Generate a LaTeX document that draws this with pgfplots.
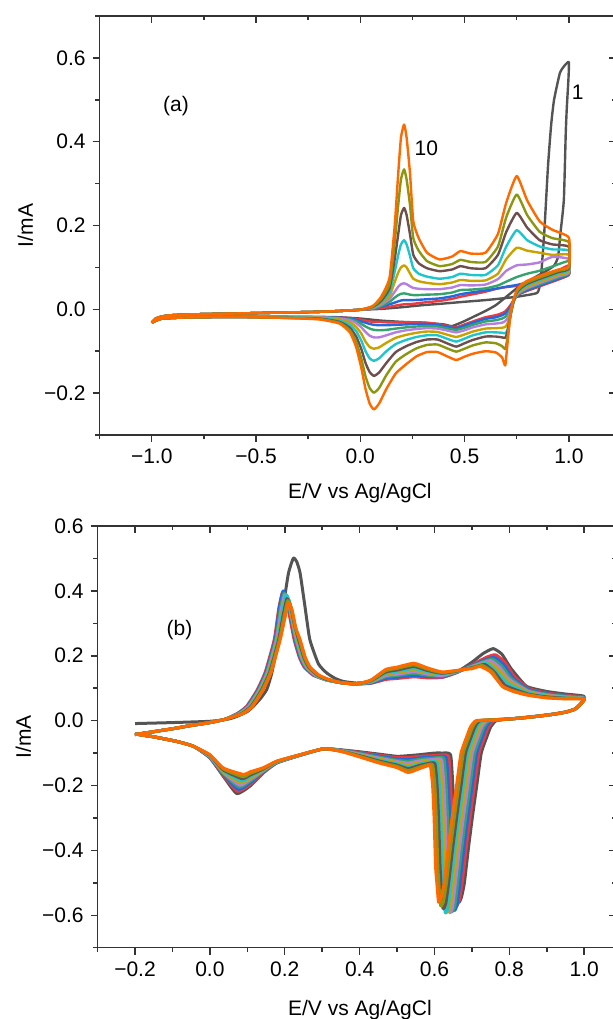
\documentclass[border=0pt]{standalone}
\usepackage{fontspec}
\setmainfont{Liberation Sans}
\usepackage{pgfplots}
\pgfplotsset{compat=1.18}

\definecolor{c1}{HTML}{545454}
\definecolor{c2}{HTML}{EE3A3F}
\definecolor{c3}{HTML}{2468E0}
\definecolor{c4}{HTML}{34A36C}
\definecolor{c5}{HTML}{B47FDF}
\definecolor{c6}{HTML}{C8A200}
\definecolor{c7}{HTML}{20C5CB}
\definecolor{c8}{HTML}{6F4E4E}
\definecolor{c9}{HTML}{8B9611}
\definecolor{c10}{HTML}{FF6A00}
\definecolor{axc}{HTML}{333333}

\pgfplotsset{
  box/.style={scale only axis, no markers,
    axis line style={draw=axc, line width=0.75pt},
    tick style={draw=axc, line width=0.75pt},
    major tick length=3.5pt, minor tick length=2.2pt,
    tick label style={font=\fontsize{10.5}{12}\selectfont, text=black},
    label style={font=\fontsize{10.5}{12}\selectfont}},
  lower/.style={box, axis x line*=bottom, axis y line*=left, tick align=outside},
  upper/.style={box, axis x line*=top, axis y line*=right, tick align=inside,
    xticklabels={}, yticklabels={}},
  cva/.style={smooth, tension=0.3, line width=1.2pt, line join=round},
  cvb/.style={smooth, tension=0.3, line width=1.5pt, line join=round},
  pa/.style={at={(49.8pt,-8pt)}, anchor=north west, width=258.2pt, height=209.5pt,
    xmin=-1.25, xmax=1.226, ymin=-0.3, ymax=0.7,
    xtick={-1,-0.5,0,0.5,1}, minor xtick={-1.25,-0.75,-0.25,0.25,0.75},
    ytick={-0.2,0,0.2,0.4,0.6}, minor ytick={-0.3,-0.1,0.1,0.3,0.5,0.7}},
  pb/.style={at={(48.8pt,-263pt)}, anchor=north west, width=259.2pt, height=210.85pt,
    xmin=-0.3, xmax=1.085, ymin=-0.7, ymax=0.6,
    xtick={-0.2,0,0.2,0.4,0.6,0.8,1.0}, minor xtick={-0.3,-0.1,0.1,0.3,0.5,0.7,0.9},
    ytick={-0.6,-0.4,-0.2,0,0.2,0.4,0.6}, minor ytick={-0.7,-0.5,-0.3,-0.1,0.1,0.3,0.5}},
}

\begin{document}
\begin{tikzpicture}

% ---------------- panel (a) ----------------
\begin{axis}[lower, pa,
  xticklabels={−1.0,−0.5,0.0,0.5,1.0},
  yticklabels={−0.2,0.0,0.2,0.4,0.6},
  xlabel={E/V vs Ag/AgCl}, ylabel={I/mA},
  xlabel style={at={(axis description cs:0.504,-0.138)}, anchor=center},
  ylabel style={at={(axis description cs:-0.1437,0.5)}, anchor=center}]

\addplot[cva, c1] coordinates {(-1.0,-0.032) (-0.98,-0.022) (-0.95,-0.017) (-0.9,-0.014) (-0.8,-0.012) (-0.6,-0.01) (-0.4,-0.008) (-0.2,-0.006) (-0.1,-0.004) (0.0,-0.001)
 (0.1,0.001) (0.2,0.005) (0.3,0.01) (0.38,0.013) (0.5,0.018) (0.6,0.022) (0.7,0.027) (0.75,0.03) (0.8,0.034) (0.85,0.04) (0.865,0.07) (0.882,0.183) (0.9,0.342) (0.915,0.44) (0.929,0.5) (0.957,0.564) (0.98,0.582) (1.0,0.59)
 (0.998,0.55) (0.99,0.48) (0.985,0.42) (0.976,0.262) (0.96,0.183) (0.948,0.125) (0.93,0.105) (0.9,0.094) (0.85,0.08) (0.8,0.066) (0.75,0.05) (0.7,0.03) (0.65,0.01) (0.6,-0.004) (0.55,-0.016) (0.5,-0.028) (0.44,-0.04) (0.4,-0.036) (0.3,-0.032) (0.2,-0.03) (0.1,-0.027) (0.0,-0.022) (-0.1,-0.019) (-0.2,-0.018) (-0.4,-0.018) (-0.6,-0.018) (-0.8,-0.019) (-0.95,-0.022) (-1.0,-0.032)};

\addplot[cva, c2] coordinates {(-1.0,-0.032) (-0.98,-0.022) (-0.95,-0.017) (-0.9,-0.014) (-0.8,-0.012) (-0.6,-0.01) (-0.4,-0.008) (-0.2,-0.006) (-0.1,-0.004) (0.0,-0.001)
 (0.06,0.001) (0.1,0.003) (0.14,0.006) (0.182,0.01) (0.21,0.012) (0.254,0.013) (0.28,0.015) (0.32,0.017) (0.38,0.02) (0.44,0.025) (0.48,0.03) (0.53,0.035) (0.6,0.042) (0.66,0.05) (0.7,0.053) (0.75,0.056) (0.8,0.062) (0.86,0.07) (0.92,0.085) (1.0,0.105)
 (1.0,0.082) (0.95,0.071) (0.9,0.062) (0.85,0.053) (0.8,0.044) (0.77,0.038) (0.75,0.032) (0.735,0.022) (0.72,0.01) (0.705,0.0) (0.695,-0.005) (0.68,-0.009) (0.65,-0.014) (0.6,-0.019) (0.54,-0.029) (0.5,-0.036) (0.46,-0.043) (0.42,-0.04) (0.37,-0.035) (0.32,-0.032) (0.27,-0.031) (0.22,-0.031) (0.17,-0.031) (0.125,-0.031) (0.09,-0.03) (0.065,-0.03) (0.045,-0.029) (0.025,-0.027) (0.005,-0.025) (-0.02,-0.023) (-0.05,-0.021) (-0.1,-0.02) (-0.2,-0.019) (-0.4,-0.018) (-0.6,-0.018) (-0.8,-0.019) (-0.95,-0.022) (-1.0,-0.032)};

\addplot[cva, c3] coordinates {(-1.0,-0.032) (-0.98,-0.022) (-0.95,-0.017) (-0.9,-0.014) (-0.8,-0.012) (-0.6,-0.01) (-0.4,-0.008) (-0.2,-0.006) (-0.1,-0.004) (0.0,-0.001)
 (0.06,0.002) (0.1,0.006) (0.14,0.012) (0.165,0.016) (0.182,0.019) (0.195,0.021) (0.21,0.022) (0.254,0.022) (0.32,0.024) (0.38,0.026) (0.44,0.031) (0.48,0.036) (0.53,0.04) (0.6,0.045) (0.66,0.05) (0.7,0.054) (0.75,0.058) (0.8,0.064) (0.86,0.07) (0.92,0.08) (1.0,0.1)
 (1.0,0.083) (0.95,0.073) (0.9,0.064) (0.85,0.055) (0.8,0.046) (0.77,0.039) (0.75,0.032) (0.735,0.02) (0.72,0.006) (0.705,-0.005) (0.695,-0.01) (0.68,-0.014) (0.65,-0.019) (0.6,-0.023) (0.54,-0.032) (0.5,-0.039) (0.46,-0.045) (0.42,-0.042) (0.37,-0.037) (0.32,-0.035) (0.27,-0.035) (0.22,-0.036) (0.17,-0.037) (0.125,-0.038) (0.09,-0.038) (0.065,-0.037) (0.045,-0.035) (0.025,-0.032) (0.005,-0.029) (-0.02,-0.025) (-0.05,-0.022) (-0.1,-0.02) (-0.2,-0.019) (-0.4,-0.018) (-0.6,-0.018) (-0.8,-0.019) (-0.95,-0.022) (-1.0,-0.032)};

\addplot[cva, c4] coordinates {(-1.0,-0.032) (-0.98,-0.022) (-0.95,-0.017) (-0.9,-0.014) (-0.8,-0.012) (-0.6,-0.01) (-0.4,-0.008) (-0.2,-0.006) (-0.1,-0.004) (0.0,-0.001)
 (0.06,0.002) (0.1,0.008) (0.14,0.018) (0.165,0.028) (0.182,0.034) (0.195,0.037) (0.21,0.038) (0.222,0.037) (0.238,0.035) (0.254,0.034) (0.28,0.034) (0.32,0.035) (0.38,0.036) (0.44,0.04) (0.48,0.046) (0.53,0.047) (0.6,0.05) (0.66,0.057) (0.7,0.066) (0.75,0.077) (0.8,0.085) (0.86,0.092) (0.92,0.102) (1.0,0.115)
 (1.0,0.085) (0.95,0.076) (0.9,0.067) (0.85,0.058) (0.8,0.049) (0.77,0.041) (0.75,0.033) (0.735,0.018) (0.72,0.0) (0.705,-0.013) (0.695,-0.018) (0.68,-0.022) (0.65,-0.026) (0.6,-0.029) (0.54,-0.037) (0.5,-0.044) (0.46,-0.049) (0.42,-0.046) (0.37,-0.041) (0.32,-0.04) (0.27,-0.041) (0.22,-0.043) (0.17,-0.046) (0.125,-0.049) (0.09,-0.05) (0.065,-0.049) (0.045,-0.046) (0.025,-0.041) (0.005,-0.035) (-0.02,-0.028) (-0.05,-0.024) (-0.1,-0.021) (-0.2,-0.019) (-0.4,-0.018) (-0.6,-0.018) (-0.8,-0.019) (-0.95,-0.022) (-1.0,-0.032)};

\addplot[cva, c5] coordinates {(-1.0,-0.032) (-0.98,-0.022) (-0.95,-0.017) (-0.9,-0.014) (-0.8,-0.012) (-0.6,-0.01) (-0.4,-0.008) (-0.2,-0.006) (-0.1,-0.004) (0.0,-0.001)
 (0.06,0.003) (0.1,0.011) (0.14,0.025) (0.165,0.042) (0.182,0.054) (0.195,0.06) (0.21,0.062) (0.222,0.06) (0.238,0.055) (0.254,0.051) (0.28,0.049) (0.32,0.048) (0.38,0.048) (0.44,0.052) (0.48,0.058) (0.53,0.057) (0.6,0.059) (0.66,0.072) (0.7,0.092) (0.75,0.105) (0.8,0.107) (0.86,0.112) (0.92,0.125) (1.0,0.12)
 (1.0,0.087) (0.95,0.079) (0.9,0.07) (0.85,0.061) (0.8,0.051) (0.77,0.043) (0.75,0.034) (0.735,0.018) (0.72,-0.005) (0.705,-0.022) (0.695,-0.028) (0.68,-0.032) (0.65,-0.034) (0.6,-0.036) (0.54,-0.043) (0.5,-0.05) (0.46,-0.055) (0.42,-0.051) (0.37,-0.046) (0.32,-0.045) (0.27,-0.047) (0.22,-0.05) (0.17,-0.055) (0.125,-0.062) (0.09,-0.067) (0.065,-0.067) (0.045,-0.063) (0.025,-0.054) (0.005,-0.043) (-0.02,-0.033) (-0.05,-0.026) (-0.1,-0.022) (-0.2,-0.019) (-0.4,-0.018) (-0.6,-0.018) (-0.8,-0.019) (-0.95,-0.022) (-1.0,-0.032)};

\addplot[cva, c6] coordinates {(-1.0,-0.032) (-0.98,-0.022) (-0.95,-0.017) (-0.9,-0.014) (-0.8,-0.012) (-0.6,-0.01) (-0.4,-0.008) (-0.2,-0.006) (-0.1,-0.004) (0.0,-0.001)
 (0.06,0.004) (0.1,0.014) (0.14,0.032) (0.165,0.065) (0.182,0.088) (0.195,0.1) (0.21,0.105) (0.222,0.1) (0.238,0.086) (0.254,0.073) (0.28,0.067) (0.32,0.063) (0.38,0.06) (0.44,0.064) (0.48,0.07) (0.53,0.068) (0.6,0.069) (0.66,0.085) (0.7,0.12) (0.75,0.147) (0.8,0.14) (0.86,0.135) (0.92,0.13) (1.0,0.13)
 (1.0,0.09) (0.95,0.082) (0.9,0.073) (0.85,0.064) (0.8,0.054) (0.77,0.045) (0.75,0.035) (0.735,0.018) (0.72,-0.01) (0.705,-0.035) (0.695,-0.042) (0.68,-0.044) (0.65,-0.045) (0.6,-0.046) (0.54,-0.053) (0.5,-0.06) (0.46,-0.066) (0.42,-0.061) (0.37,-0.054) (0.32,-0.053) (0.27,-0.056) (0.22,-0.061) (0.17,-0.068) (0.125,-0.08) (0.09,-0.091) (0.065,-0.094) (0.045,-0.09) (0.025,-0.077) (0.005,-0.058) (-0.02,-0.042) (-0.05,-0.031) (-0.1,-0.024) (-0.2,-0.02) (-0.4,-0.019) (-0.6,-0.018) (-0.8,-0.019) (-0.95,-0.022) (-1.0,-0.032)};

\addplot[cva, c7] coordinates {(-1.0,-0.032) (-0.98,-0.022) (-0.95,-0.017) (-0.9,-0.014) (-0.8,-0.012) (-0.6,-0.01) (-0.4,-0.008) (-0.2,-0.006) (-0.1,-0.004) (0.0,-0.001)
 (0.06,0.005) (0.1,0.017) (0.14,0.04) (0.165,0.09) (0.182,0.13) (0.195,0.155) (0.21,0.165) (0.222,0.155) (0.238,0.128) (0.254,0.098) (0.28,0.085) (0.32,0.078) (0.38,0.073) (0.44,0.077) (0.48,0.085) (0.53,0.082) (0.6,0.082) (0.66,0.105) (0.7,0.15) (0.75,0.189) (0.8,0.165) (0.86,0.15) (0.92,0.143) (1.0,0.14)
 (1.0,0.094) (0.95,0.086) (0.9,0.077) (0.85,0.068) (0.8,0.058) (0.77,0.048) (0.75,0.037) (0.735,0.018) (0.72,-0.015) (0.705,-0.05) (0.695,-0.057) (0.68,-0.056) (0.65,-0.055) (0.6,-0.055) (0.54,-0.062) (0.5,-0.07) (0.46,-0.077) (0.42,-0.071) (0.37,-0.062) (0.32,-0.062) (0.27,-0.066) (0.22,-0.073) (0.17,-0.083) (0.125,-0.1) (0.09,-0.117) (0.065,-0.123) (0.045,-0.117) (0.025,-0.1) (0.005,-0.075) (-0.02,-0.052) (-0.05,-0.037) (-0.1,-0.027) (-0.2,-0.021) (-0.4,-0.019) (-0.6,-0.018) (-0.8,-0.019) (-0.95,-0.022) (-1.0,-0.032)};

\addplot[cva, c8] coordinates {(-1.0,-0.032) (-0.98,-0.022) (-0.95,-0.017) (-0.9,-0.014) (-0.8,-0.012) (-0.6,-0.01) (-0.4,-0.008) (-0.2,-0.006) (-0.1,-0.004) (0.0,-0.001)
 (0.06,0.006) (0.1,0.02) (0.14,0.05) (0.165,0.12) (0.182,0.18) (0.195,0.225) (0.21,0.242) (0.222,0.225) (0.238,0.18) (0.254,0.13) (0.28,0.11) (0.32,0.098) (0.38,0.091) (0.44,0.095) (0.48,0.103) (0.53,0.098) (0.6,0.098) (0.66,0.13) (0.7,0.185) (0.75,0.23) (0.8,0.195) (0.86,0.165) (0.92,0.155) (1.0,0.149)
 (1.0,0.097) (0.95,0.089) (0.9,0.08) (0.85,0.071) (0.8,0.061) (0.77,0.051) (0.75,0.04) (0.735,0.02) (0.72,-0.015) (0.705,-0.055) (0.695,-0.068) (0.68,-0.067) (0.65,-0.065) (0.6,-0.065) (0.54,-0.073) (0.5,-0.081) (0.46,-0.089) (0.42,-0.082) (0.37,-0.072) (0.32,-0.072) (0.27,-0.078) (0.22,-0.088) (0.17,-0.102) (0.125,-0.128) (0.09,-0.151) (0.065,-0.159) (0.045,-0.15) (0.025,-0.128) (0.005,-0.095) (-0.02,-0.065) (-0.05,-0.044) (-0.1,-0.03) (-0.2,-0.022) (-0.4,-0.02) (-0.6,-0.018) (-0.8,-0.019) (-0.95,-0.022) (-1.0,-0.032)};

\addplot[cva, c9] coordinates {(-1.0,-0.032) (-0.98,-0.022) (-0.95,-0.017) (-0.9,-0.014) (-0.8,-0.012) (-0.6,-0.01) (-0.4,-0.008) (-0.2,-0.006) (-0.1,-0.004) (0.0,-0.001)
 (0.06,0.007) (0.1,0.025) (0.14,0.06) (0.165,0.16) (0.182,0.25) (0.195,0.31) (0.21,0.334) (0.222,0.31) (0.238,0.25) (0.254,0.17) (0.28,0.14) (0.32,0.115) (0.38,0.103) (0.44,0.108) (0.48,0.118) (0.53,0.113) (0.6,0.113) (0.66,0.15) (0.7,0.22) (0.75,0.274) (0.8,0.225) (0.86,0.185) (0.92,0.17) (1.0,0.16)
 (1.0,0.1) (0.95,0.092) (0.9,0.083) (0.85,0.074) (0.8,0.064) (0.77,0.054) (0.75,0.042) (0.735,0.022) (0.72,-0.015) (0.705,-0.07) (0.695,-0.095) (0.68,-0.088) (0.65,-0.081) (0.6,-0.079) (0.54,-0.086) (0.5,-0.094) (0.46,-0.101) (0.42,-0.094) (0.37,-0.084) (0.32,-0.085) (0.27,-0.093) (0.22,-0.107) (0.17,-0.125) (0.125,-0.157) (0.09,-0.188) (0.065,-0.199) (0.045,-0.188) (0.025,-0.16) (0.005,-0.118) (-0.02,-0.078) (-0.05,-0.05) (-0.1,-0.032) (-0.2,-0.023) (-0.4,-0.02) (-0.6,-0.018) (-0.8,-0.019) (-0.95,-0.022) (-1.0,-0.032)};

\addplot[cva, c10] coordinates {(-1.0,-0.032) (-0.98,-0.022) (-0.95,-0.017) (-0.9,-0.014) (-0.8,-0.012) (-0.6,-0.01) (-0.4,-0.008) (-0.2,-0.006) (-0.1,-0.004) (0.0,-0.001)
 (0.06,0.008) (0.1,0.03) (0.14,0.075) (0.165,0.2) (0.182,0.326) (0.195,0.41) (0.21,0.441) (0.222,0.41) (0.238,0.326) (0.254,0.21) (0.28,0.17) (0.32,0.135) (0.38,0.119) (0.44,0.126) (0.48,0.139) (0.53,0.133) (0.6,0.135) (0.66,0.18) (0.7,0.255) (0.75,0.318) (0.8,0.26) (0.86,0.21) (0.92,0.19) (1.0,0.171)
 (1.0,0.103) (0.95,0.095) (0.9,0.087) (0.85,0.078) (0.8,0.068) (0.77,0.058) (0.75,0.045) (0.735,0.025) (0.72,-0.01) (0.705,-0.085) (0.695,-0.134) (0.68,-0.115) (0.65,-0.103) (0.6,-0.1) (0.54,-0.106) (0.5,-0.113) (0.46,-0.121) (0.42,-0.113) (0.37,-0.102) (0.32,-0.102) (0.27,-0.112) (0.22,-0.131) (0.17,-0.153) (0.125,-0.19) (0.09,-0.225) (0.065,-0.239) (0.045,-0.225) (0.025,-0.19) (0.005,-0.14) (-0.02,-0.09) (-0.05,-0.055) (-0.1,-0.034) (-0.2,-0.024) (-0.4,-0.02) (-0.6,-0.018) (-0.8,-0.019) (-0.95,-0.022) (-1.0,-0.032)};

\node[font=\fontsize{10.5}{12}\selectfont] at (axis cs:-0.884,0.484) {(a)};
\node[font=\fontsize{10.5}{12}\selectfont] at (axis cs:0.317,0.385) {10};
\node[font=\fontsize{10.5}{12}\selectfont] at (axis cs:1.043,0.517) {1};
\end{axis}
\begin{axis}[upper, pa]
\end{axis}

% ---------------- panel (b) ----------------
\begin{axis}[lower, pb,
  xticklabels={−0.2,0.0,0.2,0.4,0.6,0.8,1.0},
  yticklabels={−0.6,−0.4,−0.2,0.0,0.2,0.4,0.6},
  xlabel={E/V vs Ag/AgCl}, ylabel={I/mA},
  xlabel style={at={(axis description cs:0.506,-0.148)}, anchor=center},
  ylabel style={at={(axis description cs:-0.143,0.5)}, anchor=center}]

\addplot[cvb, c1] coordinates {(-0.2,-0.009) (-0.1,-0.006) (0,-0.002) (0.05,0.005) (0.072,0.013) (0.1,0.028) (0.116,0.044) (0.135,0.068) (0.152,0.096) (0.165,0.145) (0.178,0.219) (0.188,0.29) (0.196,0.352) (0.21,0.455) (0.223,0.501) (0.232,0.49) (0.241,0.455) (0.254,0.352) (0.267,0.25) (0.29,0.175) (0.312,0.147) (0.335,0.13) (0.356,0.121) (0.39,0.116) (0.43,0.118) (0.47,0.13) (0.5,0.134) (0.545,0.138) (0.58,0.134) (0.62,0.134) (0.66,0.15) (0.7,0.18) (0.73,0.207) (0.757,0.222) (0.78,0.205) (0.805,0.16) (0.846,0.106) (0.9,0.09) (0.95,0.082) (1.0,0.075)
 (0.99,0.052) (0.975,0.036) (0.95,0.027) (0.92,0.021) (0.88,0.015) (0.84,0.01) (0.8,0.005) (0.765,0) (0.75,-0.02) (0.74,-0.05) (0.725,-0.1) (0.713,-0.2) (0.701,-0.3) (0.69,-0.4) (0.68,-0.5) (0.672,-0.545) (0.665,-0.56) (0.661,-0.51) (0.657,-0.45) (0.653,-0.3) (0.649,-0.2) (0.643,-0.105) (0.62,-0.1) (0.6,-0.1) (0.56,-0.105) (0.53,-0.108) (0.5,-0.11) (0.45,-0.103) (0.4,-0.096) (0.35,-0.09) (0.303,-0.087) (0.232,-0.11) (0.178,-0.131) (0.143,-0.161) (0.107,-0.202) (0.072,-0.225) (0.036,-0.172) (0,-0.115) (-0.044,-0.079) (-0.089,-0.064) (-0.15,-0.05) (-0.2,-0.041)};

\addplot[cvb, c2] coordinates {(-0.2,-0.043) (-0.15,-0.034) (-0.1,-0.025) (-0.05,-0.015) (0,-0.006) (0.04,0.004)
 (0.073,0.022) (0.098,0.044) (0.126,0.094) (0.148,0.15) (0.172,0.25) (0.184,0.346) (0.194,0.396) (0.204,0.371) (0.214,0.316) (0.225,0.25) (0.239,0.195) (0.252,0.165) (0.276,0.14) (0.31,0.126) (0.35,0.117) (0.39,0.113) (0.43,0.115) (0.47,0.127) (0.5,0.13) (0.545,0.135) (0.58,0.132) (0.62,0.133) (0.66,0.148) (0.7,0.172) (0.738,0.195) (0.763,0.203) (0.788,0.18) (0.813,0.137) (0.85,0.1) (0.9,0.085) (0.95,0.078) (1.0,0.072)
 (0.99,0.05) (0.975,0.035) (0.95,0.026) (0.92,0.02) (0.88,0.014) (0.84,0.009) (0.8,0.005)
 (0.759,0) (0.744,-0.02) (0.734,-0.05) (0.719,-0.1) (0.707,-0.2) (0.695,-0.3) (0.684,-0.4) (0.674,-0.5) (0.666,-0.555) (0.659,-0.57) (0.655,-0.52) (0.651,-0.45) (0.647,-0.3) (0.643,-0.2) (0.637,-0.109) (0.6,-0.108) (0.56,-0.11) (0.53,-0.114) (0.5,-0.114) (0.45,-0.106) (0.4,-0.098) (0.35,-0.091) (0.303,-0.087) (0.232,-0.11) (0.178,-0.13) (0.143,-0.159) (0.107,-0.197) (0.074,-0.218) (0.036,-0.169) (0,-0.114)
 (-0.044,-0.079) (-0.089,-0.064) (-0.15,-0.05) (-0.2,-0.041)};

\addplot[cvb, c3] coordinates {(-0.2,-0.043) (-0.15,-0.034) (-0.1,-0.025) (-0.05,-0.015) (0,-0.006) (0.04,0.004)
 (0.075,0.022) (0.1,0.044) (0.128,0.094) (0.15,0.15) (0.174,0.25) (0.186,0.35) (0.196,0.4) (0.206,0.375) (0.216,0.32) (0.227,0.25) (0.241,0.195) (0.254,0.165) (0.278,0.14) (0.31,0.126) (0.35,0.117) (0.39,0.113) (0.43,0.116) (0.47,0.131) (0.5,0.134) (0.545,0.14) (0.58,0.136) (0.62,0.135) (0.66,0.149) (0.7,0.17) (0.735,0.187) (0.76,0.195) (0.785,0.173) (0.81,0.132) (0.85,0.097) (0.9,0.083) (0.95,0.076) (1.0,0.071)
 (0.99,0.05) (0.975,0.035) (0.95,0.026) (0.92,0.02) (0.88,0.014) (0.84,0.009) (0.8,0.005)
 (0.753,0) (0.738,-0.02) (0.728,-0.05) (0.713,-0.1) (0.701,-0.2) (0.689,-0.3) (0.678,-0.4) (0.668,-0.5) (0.66,-0.57) (0.653,-0.585) (0.649,-0.535) (0.645,-0.45) (0.641,-0.3) (0.637,-0.2) (0.631,-0.113) (0.6,-0.112) (0.56,-0.115) (0.53,-0.12) (0.5,-0.118) (0.45,-0.109) (0.4,-0.1) (0.35,-0.091) (0.303,-0.087) (0.232,-0.11) (0.178,-0.13) (0.143,-0.157) (0.107,-0.192) (0.076,-0.212) (0.036,-0.166) (0,-0.113)
 (-0.044,-0.079) (-0.089,-0.064) (-0.15,-0.05) (-0.2,-0.041)};

\addplot[cvb, c4] coordinates {(-0.2,-0.043) (-0.15,-0.034) (-0.1,-0.025) (-0.05,-0.015) (0,-0.006) (0.04,0.004)
 (0.077,0.022) (0.102,0.044) (0.13,0.094) (0.152,0.15) (0.176,0.25) (0.188,0.343) (0.198,0.393) (0.208,0.368) (0.218,0.313) (0.229,0.25) (0.243,0.195) (0.256,0.165) (0.28,0.14) (0.31,0.126) (0.35,0.117) (0.39,0.113) (0.43,0.118) (0.47,0.135) (0.5,0.139) (0.545,0.146) (0.58,0.14) (0.62,0.137) (0.66,0.15) (0.7,0.168) (0.73,0.182) (0.755,0.19) (0.78,0.168) (0.805,0.13) (0.85,0.094) (0.9,0.081) (0.95,0.075) (1.0,0.07)
 (0.99,0.05) (0.975,0.035) (0.95,0.026) (0.92,0.02) (0.88,0.014) (0.84,0.009) (0.8,0.005)
 (0.747,0) (0.732,-0.02) (0.722,-0.05) (0.707,-0.1) (0.695,-0.2) (0.683,-0.3) (0.672,-0.4) (0.662,-0.5) (0.654,-0.573) (0.647,-0.588) (0.643,-0.538) (0.639,-0.45) (0.635,-0.3) (0.631,-0.2) (0.625,-0.117) (0.6,-0.115) (0.56,-0.119) (0.53,-0.125) (0.5,-0.122) (0.45,-0.112) (0.4,-0.101) (0.35,-0.092) (0.303,-0.087) (0.232,-0.109) (0.178,-0.129) (0.143,-0.156) (0.107,-0.187) (0.078,-0.205) (0.036,-0.163) (0,-0.112)
 (-0.044,-0.079) (-0.089,-0.064) (-0.15,-0.05) (-0.2,-0.041)};

\addplot[cvb, c5] coordinates {(-0.2,-0.043) (-0.15,-0.034) (-0.1,-0.025) (-0.05,-0.015) (0,-0.006) (0.04,0.004)
 (0.079,0.022) (0.104,0.044) (0.132,0.094) (0.154,0.15) (0.178,0.25) (0.19,0.338) (0.2,0.388) (0.21,0.363) (0.22,0.308) (0.231,0.25) (0.245,0.195) (0.258,0.165) (0.282,0.14) (0.31,0.126) (0.35,0.117) (0.39,0.113) (0.43,0.119) (0.47,0.139) (0.5,0.143) (0.545,0.151) (0.58,0.144) (0.62,0.139) (0.66,0.151) (0.7,0.167) (0.725,0.177) (0.75,0.185) (0.775,0.163) (0.8,0.127) (0.85,0.091) (0.9,0.079) (0.95,0.073) (1.0,0.069)
 (0.99,0.05) (0.975,0.035) (0.95,0.026) (0.92,0.02) (0.88,0.014) (0.84,0.009) (0.8,0.005)
 (0.741,0) (0.726,-0.02) (0.716,-0.05) (0.701,-0.1) (0.689,-0.2) (0.677,-0.3) (0.666,-0.4) (0.656,-0.5) (0.648,-0.577) (0.641,-0.592) (0.637,-0.542) (0.633,-0.45) (0.629,-0.3) (0.625,-0.2) (0.619,-0.121) (0.595,-0.12) (0.56,-0.124) (0.53,-0.131) (0.5,-0.126) (0.45,-0.115) (0.4,-0.103) (0.35,-0.092) (0.303,-0.087) (0.232,-0.109) (0.178,-0.128) (0.143,-0.154) (0.107,-0.182) (0.08,-0.199) (0.036,-0.16) (0,-0.111)
 (-0.044,-0.079) (-0.089,-0.064) (-0.15,-0.05) (-0.2,-0.041)};

\addplot[cvb, c6] coordinates {(-0.2,-0.043) (-0.15,-0.034) (-0.1,-0.025) (-0.05,-0.015) (0,-0.006) (0.04,0.004)
 (0.081,0.022) (0.106,0.044) (0.134,0.094) (0.156,0.15) (0.18,0.25) (0.192,0.333) (0.202,0.383) (0.212,0.358) (0.222,0.303) (0.233,0.25) (0.247,0.195) (0.26,0.165) (0.284,0.14) (0.31,0.126) (0.35,0.117) (0.39,0.113) (0.43,0.12) (0.47,0.143) (0.5,0.148) (0.545,0.156) (0.58,0.148) (0.62,0.142) (0.66,0.152) (0.695,0.164) (0.72,0.172) (0.745,0.18) (0.77,0.158) (0.8,0.12) (0.85,0.088) (0.9,0.077) (0.95,0.072) (1.0,0.068)
 (0.99,0.05) (0.975,0.035) (0.95,0.026) (0.92,0.02) (0.88,0.014) (0.84,0.009) (0.8,0.005)
 (0.735,0) (0.72,-0.02) (0.71,-0.05) (0.695,-0.1) (0.683,-0.2) (0.671,-0.3) (0.66,-0.4) (0.65,-0.5) (0.642,-0.575) (0.635,-0.59) (0.631,-0.54) (0.627,-0.45) (0.623,-0.3) (0.619,-0.2) (0.613,-0.125) (0.59,-0.124) (0.56,-0.129) (0.53,-0.137) (0.5,-0.129) (0.45,-0.118) (0.4,-0.105) (0.35,-0.093) (0.303,-0.087) (0.232,-0.109) (0.178,-0.128) (0.143,-0.152) (0.107,-0.178) (0.082,-0.192) (0.036,-0.158) (0,-0.109)
 (-0.044,-0.079) (-0.089,-0.064) (-0.15,-0.05) (-0.2,-0.041)};

\addplot[cvb, c7] coordinates {(-0.2,-0.043) (-0.15,-0.034) (-0.1,-0.025) (-0.05,-0.015) (0,-0.006) (0.04,0.004)
 (0.083,0.022) (0.108,0.044) (0.136,0.094) (0.158,0.15) (0.182,0.25) (0.194,0.338) (0.204,0.388) (0.214,0.363) (0.224,0.308) (0.235,0.25) (0.249,0.195) (0.262,0.165) (0.286,0.14) (0.31,0.126) (0.35,0.117) (0.39,0.113) (0.43,0.121) (0.47,0.146) (0.5,0.152) (0.545,0.161) (0.58,0.151) (0.62,0.144) (0.66,0.152) (0.69,0.162) (0.715,0.169) (0.74,0.177) (0.765,0.153) (0.795,0.115) (0.85,0.085) (0.9,0.075) (0.95,0.07) (1.0,0.068)
 (0.99,0.05) (0.975,0.035) (0.95,0.026) (0.92,0.02) (0.88,0.014) (0.84,0.009) (0.8,0.005)
 (0.729,0) (0.714,-0.02) (0.704,-0.05) (0.689,-0.1) (0.677,-0.2) (0.665,-0.3) (0.654,-0.4) (0.644,-0.5) (0.636,-0.578) (0.629,-0.593) (0.625,-0.543) (0.621,-0.45) (0.617,-0.3) (0.613,-0.2) (0.607,-0.129) (0.585,-0.128) (0.56,-0.134) (0.53,-0.143) (0.5,-0.133) (0.45,-0.121) (0.4,-0.107) (0.35,-0.093) (0.303,-0.087) (0.232,-0.109) (0.178,-0.127) (0.143,-0.15) (0.107,-0.173) (0.084,-0.186) (0.036,-0.155) (0,-0.108)
 (-0.044,-0.079) (-0.089,-0.064) (-0.15,-0.05) (-0.2,-0.041)};

\addplot[cvb, c8] coordinates {(-0.2,-0.043) (-0.15,-0.034) (-0.1,-0.025) (-0.05,-0.015) (0,-0.006) (0.04,0.004)
 (0.085,0.022) (0.11,0.044) (0.138,0.094) (0.16,0.15) (0.184,0.25) (0.196,0.326) (0.206,0.376) (0.216,0.351) (0.226,0.296) (0.237,0.25) (0.251,0.195) (0.264,0.165) (0.288,0.14) (0.31,0.128) (0.35,0.117) (0.39,0.113) (0.43,0.123) (0.47,0.15) (0.5,0.156) (0.545,0.167) (0.58,0.155) (0.62,0.146) (0.66,0.153) (0.69,0.161) (0.71,0.166) (0.735,0.173) (0.76,0.15) (0.79,0.108) (0.85,0.082) (0.9,0.073) (0.95,0.069) (1.0,0.067)
 (0.99,0.05) (0.975,0.035) (0.95,0.026) (0.92,0.02) (0.88,0.014) (0.84,0.009) (0.8,0.005)
 (0.723,0) (0.708,-0.02) (0.698,-0.05) (0.683,-0.1) (0.671,-0.2) (0.659,-0.3) (0.648,-0.4) (0.638,-0.5) (0.63,-0.565) (0.623,-0.58) (0.619,-0.53) (0.615,-0.45) (0.611,-0.3) (0.607,-0.2) (0.601,-0.132) (0.58,-0.133) (0.56,-0.138) (0.53,-0.148) (0.5,-0.137) (0.45,-0.124) (0.4,-0.108) (0.35,-0.094) (0.303,-0.087) (0.232,-0.108) (0.178,-0.126) (0.143,-0.149) (0.107,-0.168) (0.086,-0.179) (0.036,-0.152) (0,-0.107)
 (-0.044,-0.079) (-0.089,-0.064) (-0.15,-0.05) (-0.2,-0.041)};

\addplot[cvb, c9] coordinates {(-0.2,-0.043) (-0.15,-0.034) (-0.1,-0.025) (-0.05,-0.015) (0,-0.006) (0.04,0.004)
 (0.087,0.022) (0.112,0.044) (0.14,0.094) (0.162,0.15) (0.186,0.25) (0.198,0.32) (0.208,0.37) (0.218,0.345) (0.228,0.29) (0.239,0.25) (0.253,0.195) (0.266,0.165) (0.29,0.14) (0.315,0.128) (0.35,0.117) (0.39,0.113) (0.43,0.124) (0.47,0.154) (0.5,0.161) (0.545,0.172) (0.58,0.159) (0.62,0.148) (0.66,0.154) (0.69,0.16) (0.705,0.163) (0.728,0.17) (0.755,0.15) (0.785,0.102) (0.85,0.08) (0.9,0.071) (0.95,0.068) (1.0,0.067)
 (0.99,0.05) (0.975,0.035) (0.95,0.026) (0.92,0.02) (0.88,0.014) (0.84,0.009) (0.8,0.005)
 (0.717,0) (0.702,-0.02) (0.692,-0.05) (0.677,-0.1) (0.665,-0.2) (0.653,-0.3) (0.642,-0.4) (0.632,-0.5) (0.624,-0.557) (0.617,-0.572) (0.613,-0.522) (0.609,-0.45) (0.605,-0.3) (0.601,-0.2) (0.595,-0.136) (0.575,-0.138) (0.56,-0.143) (0.53,-0.154) (0.5,-0.141) (0.45,-0.127) (0.4,-0.11) (0.35,-0.094) (0.303,-0.087) (0.232,-0.108) (0.178,-0.126) (0.143,-0.147) (0.107,-0.163) (0.088,-0.173) (0.036,-0.149) (0,-0.106)
 (-0.044,-0.079) (-0.089,-0.064) (-0.15,-0.05) (-0.2,-0.041)};

\addplot[cvb, c10] coordinates {(-0.2,-0.043) (-0.15,-0.034) (-0.1,-0.025) (-0.05,-0.015) (0,-0.006) (0.04,0.004)
 (0.089,0.022) (0.114,0.044) (0.142,0.094) (0.164,0.15) (0.188,0.25) (0.2,0.314) (0.21,0.364) (0.22,0.339) (0.23,0.284) (0.241,0.25) (0.255,0.195) (0.268,0.165) (0.292,0.14) (0.315,0.128) (0.35,0.117) (0.39,0.113) (0.43,0.125) (0.47,0.158) (0.5,0.165) (0.545,0.177) (0.58,0.163) (0.62,0.15) (0.66,0.155) (0.69,0.159) (0.7,0.16) (0.722,0.167) (0.75,0.15) (0.78,0.108) (0.81,0.09) (0.85,0.078) (0.9,0.07) (0.95,0.067) (1.0,0.066)
 (0.99,0.05) (0.975,0.035) (0.95,0.026) (0.92,0.02) (0.88,0.014) (0.84,0.009) (0.8,0.005) (0.76,0.002)
 (0.711,0) (0.696,-0.02) (0.686,-0.05) (0.671,-0.1) (0.659,-0.2) (0.647,-0.3) (0.636,-0.4) (0.626,-0.5) (0.618,-0.545) (0.611,-0.56) (0.607,-0.51) (0.603,-0.45) (0.599,-0.3) (0.595,-0.2) (0.589,-0.14) (0.575,-0.142) (0.56,-0.148) (0.53,-0.16) (0.5,-0.145) (0.45,-0.13) (0.4,-0.112) (0.35,-0.095) (0.303,-0.087) (0.232,-0.108) (0.178,-0.125) (0.143,-0.145) (0.107,-0.158) (0.09,-0.166) (0.036,-0.146) (0,-0.105)
 (-0.044,-0.079) (-0.089,-0.064) (-0.15,-0.05) (-0.2,-0.041)};

\node[font=\fontsize{10.5}{12}\selectfont] at (axis cs:-0.081,0.28) {(b)};
\end{axis}
\begin{axis}[upper, pb]
\end{axis}

\pgfresetboundingbox
\useasboundingbox (0,0) rectangle (306.5pt,-509.5pt);
\end{tikzpicture}
\end{document}
